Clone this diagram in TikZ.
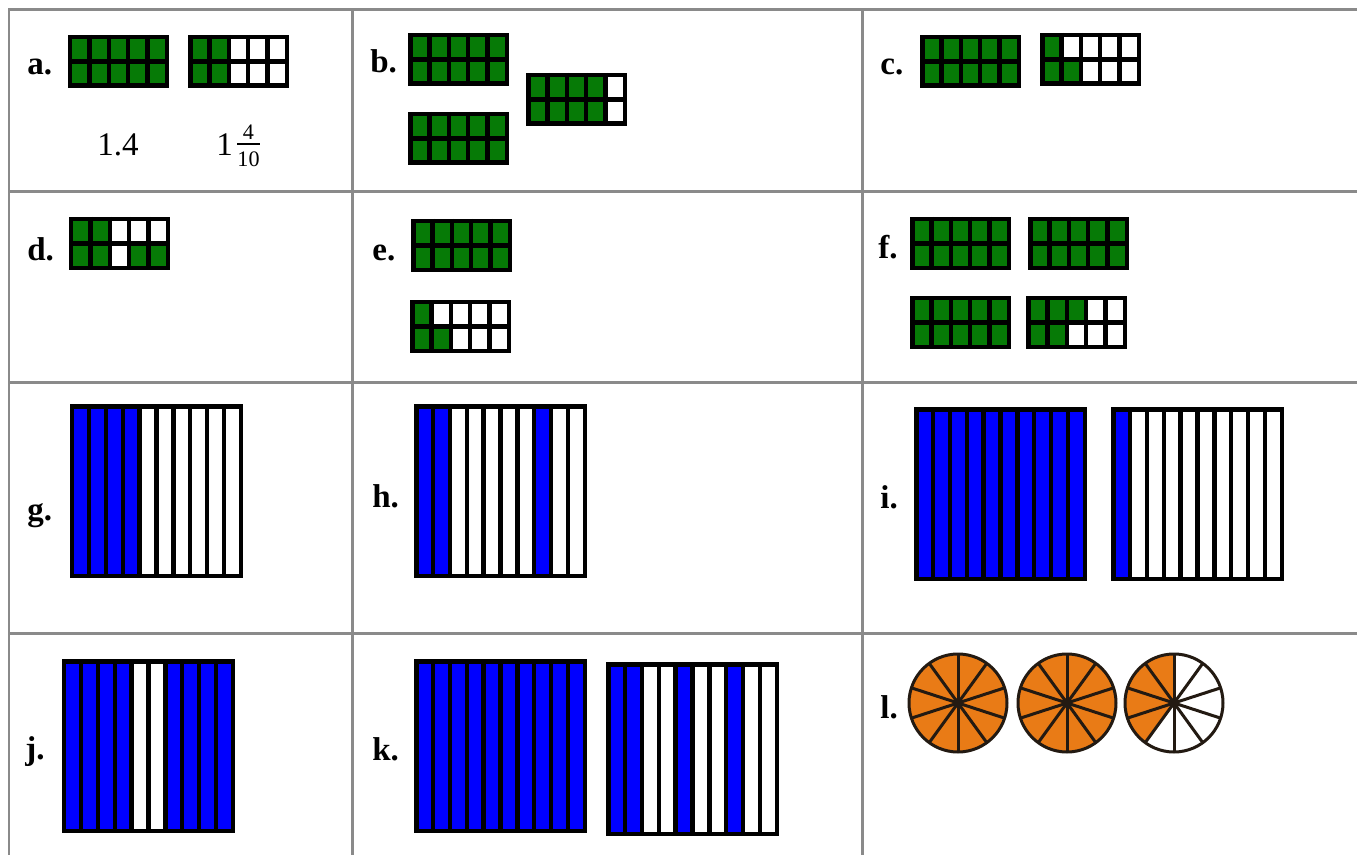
\documentclass[tikz,border=0pt]{standalone}
\usepackage{fontspec}
\setmainfont{Liberation Serif}
\usetikzlibrary{positioning}
\definecolor{fracgreen}{HTML}{067A06}
\definecolor{fracblue}{HTML}{0000FF}
\definecolor{fracorange}{HTML}{E97B16}
\definecolor{fracink}{HTML}{231A12}
\definecolor{tablegray}{HTML}{8A8A8A}

% cell lists
\newcommand{\fullframe}{1/1,2/1,3/1,4/1,5/1,1/2,2/2,3/2,4/2,5/2}
\newcommand{\fullbar}{1,2,3,4,5,6,7,8,9,10}

% two rows of five cells, (#1,#2) = top left corner, #3 = green cells col/row
\newcommand{\tenframe}[3]{%
  \edef\framecells{#3}%
  \fill[white] (#1,#2) rectangle ++(101,53);
  \foreach \colno/\rowno in \framecells
    \fill[fracgreen] ({#1+2.25+(\colno-1)*19.3},{#2+2.25+(\rowno-1)*24.25}) rectangle ++(19.3,24.25);
  \foreach \i in {1,...,4}
    \draw[cellrule] ({#1+2.25+\i*19.3},#2) -- ++(0,53);
  \draw[cellrule] (#1,{#2+26.5}) -- ++(101,0);
  \draw[cellrule] ({#1+2.25},{#2+2.25}) rectangle ++(96.5,48.5);
}

% ten vertical strips, #3 = blue strips
\newcommand{\tenbar}[3]{%
  \edef\barcells{#3}%
  \foreach \s in \barcells
    \fill[fracblue] ({#1+2.25+(\s-1)*16.85},{#2+2.25}) rectangle ++(16.85,169.5);
  \foreach \i in {1,...,9}
    \draw[cellrule] ({#1+2.25+\i*16.85},#2) -- ++(0,174);
  \draw[cellrule] ({#1+2.25},{#2+2.25}) rectangle ++(168.5,169.5);
}

% circle in ten sectors, (#1,#2) = centre, #3 = orange sectors from the top
\newcommand{\tenpie}[3]{%
  \edef\piecells{#3}%
  \foreach \k in \piecells
    \fill[fracorange] (#1,#2) -- ++({306-36*\k}:49) arc[start angle={306-36*\k}, end angle={270-36*\k}, radius=49] -- cycle;
  \foreach \a in {18,54,...,342}
    \draw[pierule] (#1,#2) -- ++(\a:49);
  \draw[pierule] (#1,#2) circle[radius=49];
  \fill[fracink] (#1,#2) circle[radius=5];
}

\begin{document}
\begin{tikzpicture}[
  x=0.02cm, y=-0.02cm,
  tablerule/.style={draw=tablegray, line width=0.06cm, line cap=rect},
  cellrule/.style={draw=black, line width=0.09cm},
  pierule/.style={draw=fracink, line width=0.06cm},
  panellabel/.style={font=\fontsize{18.8}{22}\selectfont\bfseries, inner sep=0pt, anchor=base west},
  valuetext/.style={font=\fontsize{18.8}{22}\selectfont, inner sep=0pt},
  fractext/.style={font=\fontsize{12.6}{15}\selectfont, inner sep=0pt, anchor=base},
]
\useasboundingbox (0,0) rectangle (1357,855);
\fill[white] (0,0) rectangle (1357,855);

% table
\foreach \y in {10,192,382,633}
  \draw[tablerule] (9,\y) -- (1357,\y);
\foreach \x in {9,352,862}
  \draw[tablerule] (\x,10) -- (\x,855);

% row 1
\node[panellabel] (laba) at (27,75) {a.};
\tenframe{68}{35}{\fullframe}
\tenframe{188}{35}{1/1,2/1,1/2,2/2}
\node[valuetext, anchor=base] (deca) at (118,155) {1.4};
\node[valuetext, anchor=base west] (wholea) at (216,155) {1};
\node[fractext] (numa) at (248.5,140) {4};
\node[fractext] (dena) at (248.5,167) {10};
\draw[line width=0.045cm] (dena.west |- 0,144) -- (dena.east |- 0,144);

\node[panellabel] (labb) at (370,73) {b.};
\tenframe{408}{33}{\fullframe}
\tenframe{408}{112}{\fullframe}
\tenframe{526}{73}{1/1,2/1,3/1,4/1,1/2,2/2,3/2,4/2}

\node[panellabel] (labc) at (880,75) {c.};
\tenframe{920}{35}{\fullframe}
\tenframe{1040}{33}{1/1,1/2,2/2}

% row 2
\node[panellabel] (labd) at (27,260) {d.};
\tenframe{69}{217}{1/1,2/1,1/2,2/2,4/2,5/2}

\node[panellabel] (labe) at (372,260) {e.};
\tenframe{411}{219}{\fullframe}
\tenframe{410}{300}{1/1,1/2,2/2}

\node[panellabel] (labf) at (878,258) {f.};
\tenframe{910}{217}{\fullframe}
\tenframe{1028}{217}{\fullframe}
\tenframe{910}{296}{\fullframe}
\tenframe{1026}{296}{1/1,2/1,3/1,1/2,2/2}

% row 3
\node[panellabel] (labg) at (27,520) {g.};
\tenbar{70}{404}{1,2,3,4}

\node[panellabel] (labh) at (372,507) {h.};
\tenbar{414}{404}{1,2,8}

\node[panellabel] (labi) at (880,508) {i.};
\tenbar{914}{407}{\fullbar}
\tenbar{1111}{407}{1}

% row 4
\node[panellabel] (labj) at (25,759) {j.};
\tenbar{62}{659}{1,2,3,4,7,8,9,10}

\node[panellabel] (labk) at (372,760) {k.};
\tenbar{414}{659}{\fullbar}
\tenbar{606}{662}{1,2,5,8}

\node[panellabel] (labl) at (880,718) {l.};
\tenpie{958}{703}{\fullbar}
\tenpie{1067}{703}{\fullbar}
\tenpie{1174}{703}{1,2,3,4}
\end{tikzpicture}
\end{document}
